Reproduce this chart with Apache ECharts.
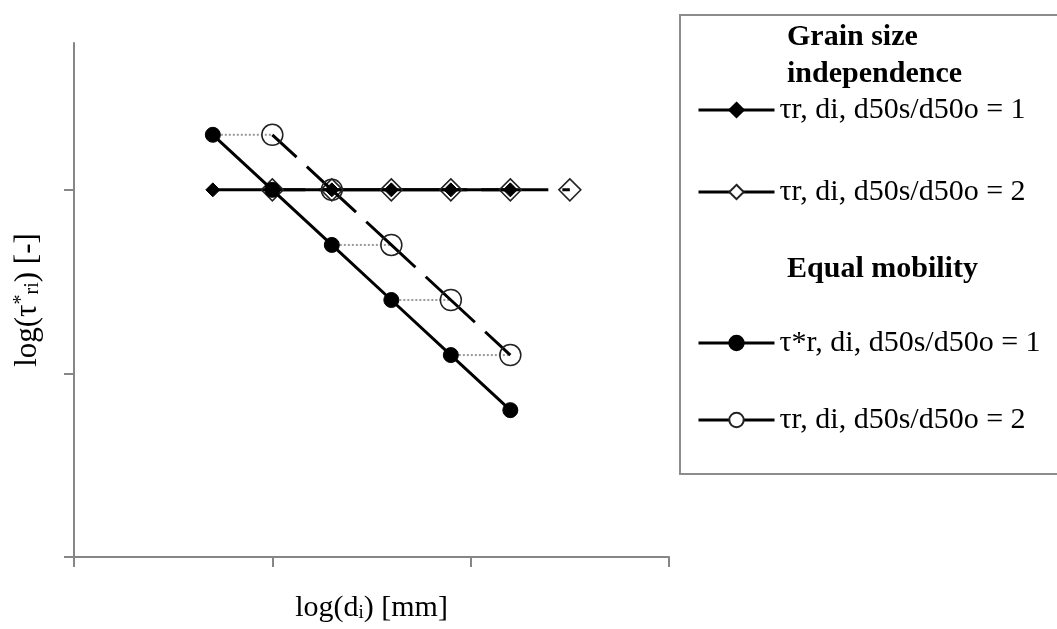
<!DOCTYPE html>
<html>
<head>
<meta charset="utf-8">
<script src="https://cdn.jsdelivr.net/npm/echarts@6/dist/echarts.min.js"></script>
<style>
  html, body { margin: 0; padding: 0; background: #fff; }
  #chart { width: 1057px; height: 629px; }
</style>
</head>
<body>
<div id="chart"></div>
<script>
// log(d_i) and log(tau*_ri) values for each curve
const xIndep1 = [0.70, 1.00, 1.30, 1.60, 1.90, 2.20];
const yIndep1 = [2.00, 2.00, 2.00, 2.00, 2.00, 2.00];
const xIndep2 = [1.00, 1.30, 1.60, 1.90, 2.20, 2.50];
const yIndep2 = [2.00, 2.00, 2.00, 2.00, 2.00, 2.00];
const xEqual1 = [0.70, 1.00, 1.30, 1.60, 1.90, 2.20];
const yEqual1 = [2.30, 2.00, 1.70, 1.40, 1.10, 0.80];
const xEqual2 = [1.00, 1.30, 1.60, 1.90, 2.20];
const yEqual2 = [2.30, 2.00, 1.70, 1.40, 1.10];

// axis ticks (no tick labels are printed)
const xTicks = [0, 1, 2, 3];
const yTicks = [0, 1, 2];

// legend texts
const legendLabels = {
  indep1: 'τr, di, d50s/d50o = 1',
  indep2: 'τr, di, d50s/d50o = 2',
  equal1: 'τ*r, di, d50s/d50o = 1',
  equal2: 'τr, di, d50s/d50o = 2'
};
const headerIndep = ['Grain size', 'independence'];
const headerEqual = 'Equal mobility';

const FONT = '"Liberation Serif", "Times New Roman", serif';
const pairs = (xs, ys) => xs.map((x, i) => [x, ys[i]]);
const DASH = [67, 14];

// dotted horizontal links between a filled circle and the open circle at the same level
const linkSeries = xEqual2.map((x2, i) => ({
  type: 'line',
  data: [[xEqual1[i], yEqual1[i]], [x2, yEqual2[i]]],
  showSymbol: false,
  symbol: 'none',
  silent: true,
  z: 1,
  lineStyle: { color: '#9a9a9a', width: 2, type: [2, 2] }
}));

const legendText = { fontFamily: FONT, fontSize: 30, color: '#000', lineHeight: 30 };

const chart = echarts.init(document.getElementById('chart'), null, { renderer: 'canvas' });
chart.setOption({
  animation: false,
  backgroundColor: '#fff',
  grid: { left: 74, right: 388, top: 43, bottom: 72, outerBoundsMode: 'none', containLabel: false },
  xAxis: {
    type: 'value', min: 0, max: 3, interval: 1,
    name: 'log(d{sub|i}) [mm]',
    nameLocation: 'middle', nameGap: 36,
    nameTextStyle: {
      fontFamily: FONT, fontSize: 30, color: '#000',
      rich: { sub: { fontFamily: FONT, fontSize: 19, color: '#000', verticalAlign: 'bottom', lineHeight: 14 } }
    },
    axisLine: { show: true, onZero: false, lineStyle: { color: '#868686', width: 2 } },
    axisTick: { show: true, inside: false, length: 10, customValues: xTicks, lineStyle: { color: '#868686', width: 2 } },
    axisLabel: { show: false },
    splitLine: { show: false }
  },
  yAxis: {
    type: 'value', min: 0, max: 2.8, interval: 1,
    name: 'log(τ{sup|*}{sub|ri}) [-]',
    nameLocation: 'middle', nameGap: 31,
    nameTextStyle: {
      fontFamily: FONT, fontSize: 31, color: '#000',
      rich: {
        sup: { fontFamily: FONT, fontSize: 20, color: '#000', verticalAlign: 'top', lineHeight: 14 },
        sub: { fontFamily: FONT, fontSize: 20, color: '#000', verticalAlign: 'bottom', lineHeight: 14 }
      }
    },
    axisLine: { show: true, onZero: false, lineStyle: { color: '#868686', width: 2 } },
    axisTick: { show: true, inside: false, length: 10, customValues: yTicks, lineStyle: { color: '#868686', width: 2 } },
    axisLabel: { show: false },
    splitLine: { show: false }
  },
  legend: [
    {
      data: [{ name: 'indep1' }, { name: 'indep2', itemStyle: { color: '#fff' } }],
      orient: 'vertical', left: 697, top: 95, padding: 0,
      itemWidth: 76, itemHeight: 18, itemGap: 52,
      selectedMode: false,
      formatter: n => legendLabels[n],
      lineStyle: { type: 'solid', width: 3 },
      textStyle: legendText
    },
    {
      data: [{ name: 'equal1' }, { name: 'equal2', itemStyle: { color: '#fff' } }],
      orient: 'vertical', left: 697, top: 328, padding: 0,
      itemWidth: 76, itemHeight: 18, itemGap: 47,
      selectedMode: false,
      formatter: n => legendLabels[n],
      lineStyle: { type: 'solid', width: 3 },
      textStyle: legendText
    }
  ],
  graphic: [
    {
      type: 'rect', silent: true, z: 0,
      shape: { x: 680, y: 15, width: 420, height: 459 },
      style: { fill: 'none', stroke: '#8c8c8c', lineWidth: 2 }
    },
    {
      type: 'text', left: 787, top: 22, silent: true,
      style: { text: headerIndep[0], font: 'bold 30px ' + FONT, fill: '#000' }
    },
    {
      type: 'text', left: 787, top: 59, silent: true,
      style: { text: headerIndep[1], font: 'bold 30px ' + FONT, fill: '#000' }
    },
    {
      type: 'text', left: 787, top: 254, silent: true,
      style: { text: headerEqual, font: 'bold 30px ' + FONT, fill: '#000' }
    }
  ],
  series: [
    ...linkSeries,
    {
      name: 'indep1', type: 'line', z: 2,
      data: pairs(xIndep1, yIndep1),
      symbol: 'diamond', symbolSize: 14, showAllSymbol: true,
      lineStyle: { color: '#000', width: 3 },
      itemStyle: { color: '#000', borderColor: '#000', borderWidth: 1 }
    },
    {
      name: 'indep2', type: 'line', z: 3,
      data: pairs(xIndep2, yIndep2),
      symbol: 'diamond', symbolSize: 22, showAllSymbol: true,
      lineStyle: { color: '#000', width: 3, type: DASH, dashOffset: 34 },
      itemStyle: { color: 'rgba(255,255,255,0)', borderColor: '#222', borderWidth: 1.5 }
    },
    {
      name: 'equal1', type: 'line', z: 4,
      data: pairs(xEqual1, yEqual1),
      symbol: 'circle', symbolSize: 15, showAllSymbol: true,
      lineStyle: { color: '#000', width: 3 },
      itemStyle: { color: '#000', borderColor: '#000', borderWidth: 1 }
    },
    {
      name: 'equal2', type: 'line', z: 5,
      data: pairs(xEqual2, yEqual2),
      symbol: 'circle', symbolSize: 21, showAllSymbol: true,
      lineStyle: { color: '#000', width: 3, type: DASH, dashOffset: 34 },
      itemStyle: { color: 'rgba(255,255,255,0)', borderColor: '#222', borderWidth: 1.5 }
    }
  ]
});
</script>
</body>
</html>
